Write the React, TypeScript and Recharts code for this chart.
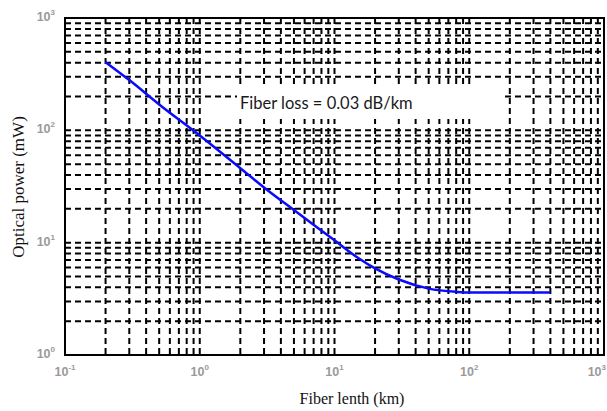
import {
  LineChart,
  Line,
  XAxis,
  YAxis,
  CartesianGrid,
  ReferenceArea,
} from "recharts";

// fiber length (km) vs optical power (mW)
const fiberLength = [0.2, 0.3, 0.5, 1, 2, 3, 5, 10, 15, 20, 30, 50, 80, 100, 200, 400];
const opticalPower = [405, 280, 170, 90, 46, 31, 19.5, 10.5, 7.3, 5.9, 4.7, 3.9, 3.65, 3.6, 3.6, 3.6];

const xDecades = [0.1, 1, 10, 100];
const yDecades = [1, 10, 100];
const minorSteps = [1, 2, 3, 4, 5, 6, 7, 8, 9];

const xTicks = [...xDecades.flatMap((d) => minorSteps.map((m) => +(d * m).toPrecision(3))), 1000];
const yTicks = [...yDecades.flatMap((d) => minorSteps.map((m) => +(d * m).toPrecision(3))), 1000];

const data = fiberLength.map((x, i) => ({ x, power: opticalPower[i] }));

const tickFont = {
  fontFamily: "'Liberation Sans', Arial, sans-serif",
  fontWeight: 700,
  fill: "#9a9a9a",
};

function exponentOf(v: number) {
  const e = Math.round(Math.log10(v));
  return Math.abs(v - Math.pow(10, e)) < 1e-9 * Math.pow(10, e) ? e : null;
}

function XTick(props: any) {
  const { x, y, payload } = props;
  const e = exponentOf(payload.value);
  if (e === null) return null;
  // the last label sits on the right edge of the page, keep it inside
  const last = e === 3;
  return (
    <text
      x={last ? 606 : x}
      y={y}
      dy={21}
      textAnchor={last ? "end" : "middle"}
      fontSize={12.5}
      {...tickFont}
    >
      <tspan>10</tspan>
      <tspan dy={-6} fontSize={8}>
        {e}
      </tspan>
    </text>
  );
}

function YTick(props: any) {
  const { x, y, payload } = props;
  const e = exponentOf(payload.value);
  if (e === null) return null;
  return (
    <text x={x - 10} y={y} dy={3} textAnchor="end" fontSize={12.5} {...tickFont}>
      <tspan>10</tspan>
      <tspan dy={-6} fontSize={8}>
        {e}
      </tspan>
    </text>
  );
}

export default function App() {
  return (
    <div
      style={{
        position: "absolute",
        left: 0,
        top: 0,
        width: 607,
        height: 411,
        background: "#fff",
        overflow: "hidden",
      }}
    >
      <LineChart
        width={607}
        height={411}
        data={data}
        margin={{ top: 18, right: 3, left: 20, bottom: 16 }}
      >
        <CartesianGrid stroke="#000" strokeWidth={2} strokeDasharray="6 4" />
        <XAxis
          dataKey="x"
          type="number"
          scale="log"
          domain={[0.1, 1000]}
          ticks={xTicks}
          interval={0}
          allowDataOverflow
          height={40}
          tickSize={0}
          tickMargin={0}
          tickLine={false}
          axisLine={false}
          tick={<XTick />}
        />
        <YAxis
          type="number"
          scale="log"
          domain={[1, 1000]}
          ticks={yTicks}
          interval={0}
          allowDataOverflow
          width={45}
          tickSize={0}
          tickMargin={0}
          tickLine={false}
          axisLine={false}
          tick={<YTick />}
        />
        <ReferenceArea
          x1={0.1}
          x2={1000}
          y1={1}
          y2={1000}
          fill="none"
          fillOpacity={0}
          stroke="#000"
          strokeWidth={2}
          ifOverflow="visible"
        />
        <Line
          type="monotone"
          dataKey="power"
          stroke="#0a0aff"
          strokeWidth={2.5}
          dot={false}
          isAnimationActive={false}
        />
      </LineChart>

      <div
        style={{
          position: "absolute",
          left: 237,
          top: 88,
          width: 264,
          height: 31,
          background: "#fff",
          lineHeight: "31px",
          paddingLeft: 3,
          boxSizing: "border-box",
          fontFamily: "Lato, 'Open Sans', sans-serif",
          fontSize: 16.5,
          color: "#1a1a1a",
          whiteSpace: "nowrap",
        }}
      >
        Fiber loss = 0.03 dB/km
      </div>

      <div
        style={{
          position: "absolute",
          left: 352,
          top: 399,
          transform: "translate(-50%, -50%)",
          fontFamily: "'Liberation Serif', 'Times New Roman', serif",
          fontSize: 16,
          color: "#111",
          whiteSpace: "nowrap",
        }}
      >
        Fiber lenth (km)
      </div>

      <div
        style={{
          position: "absolute",
          left: 19,
          top: 187,
          transform: "translate(-50%, -50%) rotate(-90deg)",
          fontFamily: "'Liberation Serif', 'Times New Roman', serif",
          fontSize: 17,
          color: "#111",
          whiteSpace: "nowrap",
        }}
      >
        Optical power (mW)
      </div>
    </div>
  );
}
